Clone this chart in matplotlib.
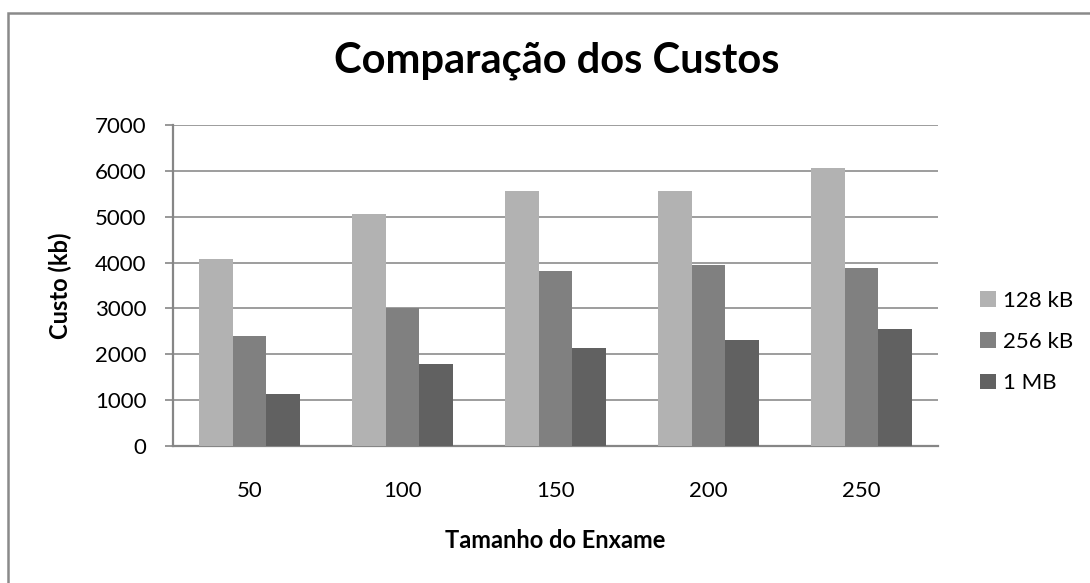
import numpy as np
import matplotlib.pyplot as plt
from matplotlib.patches import Rectangle

plt.rcParams['font.family'] = ['Lato', 'DejaVu Sans']

# data
categories = ['50', '100', '150', '200', '250']
series_names = ['128 kB', '256 kB', '1 MB']
custo_128 = [4070, 5050, 5560, 5560, 6060]
custo_256 = [2400, 3000, 3820, 3950, 3890]
custo_1mb = [1130, 1780, 2140, 2320, 2550]
colors = ['#b2b2b2', '#808080', '#616161']

W, H = 1090, 583
fig = plt.figure(figsize=(W / 100, H / 100), dpi=100)
ax = fig.add_axes([173 / W, 1 - 446 / H, (938 - 173) / W, (446 - 125) / H])

x = np.arange(len(categories))
width = 0.22
for i, (vals, name, col) in enumerate(zip([custo_128, custo_256, custo_1mb], series_names, colors)):
    ax.bar(x + (i - 1) * width, vals, width, color=col, label=name, zorder=3)

ax.set_xlim(-0.5, len(categories) - 0.5)
ax.set_ylim(0, 7000)
ax.set_yticks(np.arange(0, 7001, 1000))
ax.set_xticks(x)
ax.set_xticklabels(categories)
ax.grid(axis='y', color='#8c8c8c', linewidth=1.2, zorder=0)
ax.tick_params(axis='y', length=6, width=1.2, color='#868686', pad=13, labelsize=16)
ax.tick_params(axis='x', length=0, pad=25, labelsize=16)
for s in ['top', 'right']:
    ax.spines[s].set_visible(False)
for s in ['left', 'bottom']:
    ax.spines[s].set_color('#868686')
    ax.spines[s].set_linewidth(1.6)

fig.text(557 / W, 1 - 72 / H, 'Comparação dos Custos', ha='center', va='baseline',
         fontsize=30, fontweight='bold')
fig.text(555.5 / W, 1 - 540 / H, 'Tamanho do Enxame', ha='center', va='center',
         fontsize=17, fontweight='bold')
fig.text(60 / W, 1 - 285.5 / H, 'Custo (kb)', ha='center', va='center', rotation=90,
         fontsize=17, fontweight='bold')

fig.legend(loc='center left', bbox_to_anchor=(980 / W, 1 - 342 / H), frameon=False,
           fontsize=16, handlelength=0.7, handleheight=0.7, handletextpad=0.35,
           labelspacing=0.95, borderpad=0, borderaxespad=0)

# outer chart border
fig.patches.append(Rectangle((8 / W, -0.05), 1.1, 1 - 13 / H + 0.05, transform=fig.transFigure,
                             fill=False, edgecolor='#8a8a8a', linewidth=1.8))

fig.savefig('out.png', dpi=100)
